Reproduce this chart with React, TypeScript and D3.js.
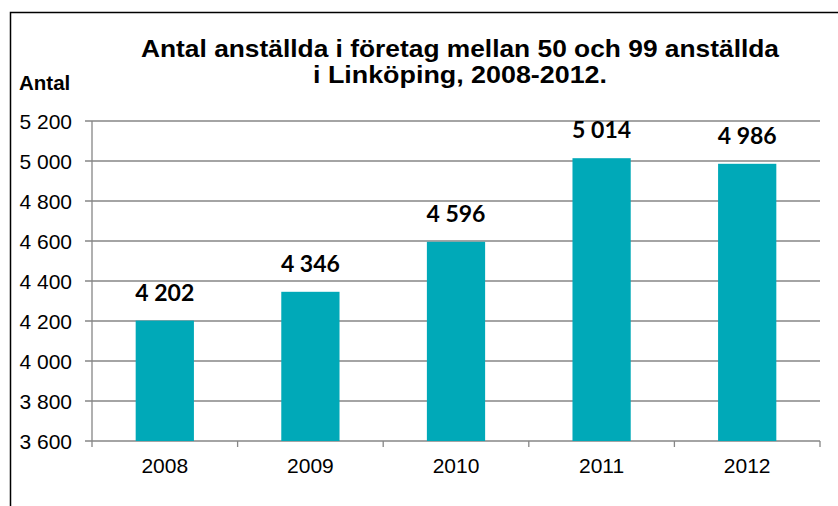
import React from "react";
import * as d3 from "d3";

const categories = ["2008", "2009", "2010", "2011", "2012"];
const values = [4202, 4346, 4596, 5014, 4986];
const yTicks = [3600, 3800, 4000, 4200, 4400, 4600, 4800, 5000, 5200];
const titleLines = ["Antal anställda i företag mellan 50 och 99 anställda", "i Linköping, 2008-2012."];
const titleWidths = [638, 294];
const yAxisTitle = "Antal";

const fmt = (v: number) => {
  const s = String(v);
  return s.replace(/\B(?=(\d{3})+(?!\d))/g, "\u00a0");
};

export default function App() {
  const W = 838, H = 506;
  const left = 92, right = 820, top = 121, bottom = 441;
  const x = d3.scaleBand<string>().domain(categories).range([left, right]).paddingInner(0.6).paddingOuter(0.3);
  const y = d3.scaleLinear().domain([3600, 5200]).range([bottom, top]);
  const xb = d3.scaleBand<string>().domain(categories).range([left, right]);
  const grid = "#868686";
  const arial = "Liberation Sans, Arial, sans-serif";
  return (
    <svg width={W} height={H} style={{ position: "absolute", left: 0, top: 0 }}>
      <rect x={0} y={0} width={W} height={H} fill="#fff" />
      <path d={`M10.5,${H} V12.5 H${W}`} fill="none" stroke="#000" strokeWidth={1.5} />
      {yTicks.map((t) => (
        <g key={t}>
          <line x1={left - 7} x2={right} y1={y(t)} y2={y(t)} stroke={grid} strokeWidth={1.3} />
          <text x={72} y={y(t) + 7.5} textAnchor="end" fontFamily={arial} fontSize={21} fill="#000">{fmt(t)}</text>
        </g>
      ))}
      <line x1={left} x2={left} y1={top} y2={bottom + 6} stroke={grid} strokeWidth={1.3} />
      {categories.map((c) => (
        <line key={"t" + c} x1={(xb(c) as number) + xb.bandwidth()} x2={(xb(c) as number) + xb.bandwidth()} y1={bottom} y2={bottom + 6} stroke={grid} strokeWidth={1.3} />
      ))}
      {categories.map((c, i) => (
        <g key={c}>
          <rect x={x(c)} y={y(values[i])} width={x.bandwidth()} height={bottom - y(values[i])} fill="#00A9B8" />
          <text x={(x(c) as number) + x.bandwidth() / 2} y={y(values[i]) - 20} textAnchor="middle" fontFamily="Lato, Carlito, sans-serif" fontWeight="bold" fontSize={23} fill="#000">{fmt(values[i])}</text>
          <text x={(xb(c) as number) + xb.bandwidth() / 2} y={473} textAnchor="middle" fontFamily={arial} fontSize={21} fill="#000">{c}</text>
        </g>
      ))}
      {titleLines.map((l, i) => (
        <text key={l} x={460} y={56.5 + i * 26.5} textAnchor="middle" fontFamily={arial} fontWeight="bold" fontSize={24} textLength={titleWidths[i]} lengthAdjust="spacingAndGlyphs" fill="#000">{l}</text>
      ))}
      <text x={19} y={90} fontFamily={arial} fontWeight="bold" fontSize={20.5} fill="#000">{yAxisTitle}</text>
    </svg>
  );
}
